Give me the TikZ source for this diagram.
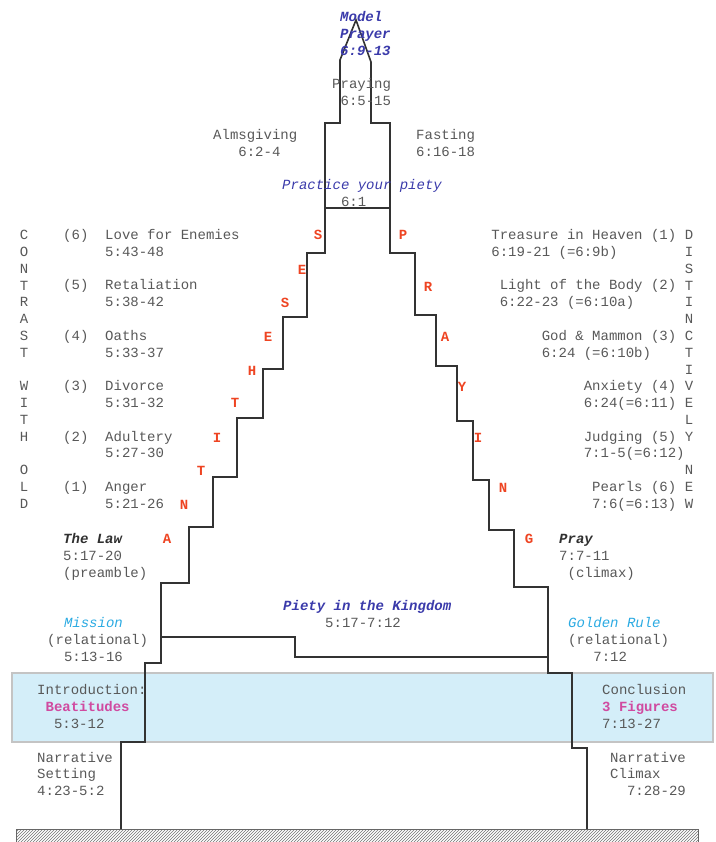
\documentclass[tikz,border=0pt]{standalone}
\usepackage{fontspec}
\setmainfont{Liberation Mono}
\usetikzlibrary{patterns}

\definecolor{txtgray}{HTML}{585858}
\definecolor{headgray}{HTML}{303030}
\definecolor{stairred}{HTML}{EE4422}
\definecolor{pietyblue}{HTML}{3A3AAA}
\definecolor{skyblue}{HTML}{2AAAE2}
\definecolor{beatpink}{HTML}{D04AA0}
\definecolor{bandblue}{HTML}{D4EEF9}
\definecolor{bandedge}{HTML}{C4C4C4}

\begin{document}
\begin{tikzpicture}[x=1pt,y=-1pt,font=\fontsize{14}{16.8}\selectfont]
		\useasboundingbox (0,0) rectangle (715,842);

		% band and ground
		\draw[fill=bandblue,draw=bandedge,line width=1.5pt] (12,673) rectangle (713,742);
		\draw[pattern=north east lines,pattern color=black!55,draw=black!60] (16,829) rectangle (698,842);

		% the mountain
		\begin{scope}[line width=1.6pt,black!80]
			\draw (121,829) -- (121,742) -- (145,742) -- (145,663) -- (161,663) -- (161,583)
				-- (189,583) -- (189,527) -- (213,527) -- (213,477) -- (237,477) -- (237,418)
				-- (263,418) -- (263,369) -- (283,369) -- (283,317) -- (307,317) -- (307,253)
				-- (325,253) -- (325,123) -- (340,123) -- (340,60) -- (356,20) -- (371,62)
				-- (371,123) -- (390,123) -- (390,253) -- (415,253) -- (415,315) -- (436,315)
				-- (436,366) -- (457,366) -- (457,421) -- (473,421) -- (473,480) -- (489,480)
				-- (489,530) -- (514,530) -- (514,587) -- (548,587) -- (548,673) -- (572,673)
				-- (572,748) -- (587,748) -- (587,829);
			\draw (325,208) -- (390,208);
			\draw (161,637) -- (295,637) -- (295,657) -- (548,657);
		\end{scope}

		\begin{scope}[every node/.style={anchor=center,inner sep=0pt,align=center,text=txtgray}]
			\node (contrast) at (24,369.4) {C\\O\\N\\T\\R\\A\\S\\T\\ \\W\\I\\T\\H\\ \\O\\L\\D};
			\node (distinct) at (689,369.4) {D\\I\\S\\T\\I\\N\\C\\T\\I\\V\\E\\L\\Y\\ \\N\\E\\W};
		\end{scope}

		\begin{scope}[every node/.style={anchor=center,inner sep=0pt,font=\fontsize{14}{16.8}\selectfont\bfseries,text=stairred}]
			\node (antiA) at (167,539) {A};
			\node (antiN) at (184,505) {N};
			\node (antiT) at (201,471) {T};
			\node (antiI) at (217,438) {I};
			\node (antiT2) at (235,403) {T};
			\node (antiH) at (252,371) {H};
			\node (antiE) at (268,337) {E};
			\node (antiS) at (285,303) {S};
			\node (antiE2) at (302,270) {E};
			\node (antiS2) at (318,235) {S};

			\node (prayP) at (403,235) {P};
			\node (prayR) at (428,287) {R};
			\node (prayA) at (445,337) {A};
			\node (prayY) at (462,387) {Y};
			\node (prayI) at (478,438) {I};
			\node (prayN) at (503,488) {N};
			\node (prayG) at (529,539) {G};
		\end{scope}

		% nodes sit on the baseline of their last line
		\begin{scope}[every node/.style={anchor=base west,inner sep=0pt,align=left,text=txtgray}]
			\node (model) at (340,55.1) {\color{pietyblue}\bfseries\itshape Model\\\color{pietyblue}\bfseries\itshape Prayer\\\color{pietyblue}\bfseries\itshape 6:9-13};
			\node (praying) at (332,105.3) {Praying\\\hphantom{0}6:5-15};
			\node (alms) at (213,156.3) {Almsgiving\\\hphantom{000}6:2-4};
			\node (fasting) at (416,156.3) {Fasting\\6:16-18};
			\node (practice) at (282,206.3) {\color{pietyblue}\itshape Practice your piety\\\hphantom{0000000}6:1};

			% antitheses
			\node (enemies) at (63,256.3) {(6)\hphantom{00}Love for Enemies\\\hphantom{00000}5:43-48};
			\node (retal) at (63,306.7) {(5)\hphantom{00}Retaliation\\\hphantom{00000}5:38-42};
			\node (oaths) at (63,357.1) {(4)\hphantom{00}Oaths\\\hphantom{00000}5:33-37};
			\node (divorce) at (63,407.5) {(3)\hphantom{00}Divorce\\\hphantom{00000}5:31-32};
			\node (adultery) at (63,457.9) {(2)\hphantom{00}Adultery\\\hphantom{00000}5:27-30};
			\node (anger) at (63,508.3) {(1)\hphantom{00}Anger\\\hphantom{00000}5:21-26};

			% piety
			\node (treasure) at (491.2,256.3) {Treasure in Heaven (1)\\6:19-21 (=6:9b)};
			\node (light) at (499.6,306.7) {Light of the Body (2)\\6:22-23 (=6:10a)};
			\node (mammon) at (541.6,357.1) {God \& Mammon (3)\\6:24 (=6:10b)};
			\node (anxiety) at (583.6,407.5) {Anxiety (4)\\6:24(=6:11)};
			\node (judging) at (583.6,457.9) {Judging (5)\\7:1-5(=6:12)};
			\node (pearls) at (592,508.3) {Pearls (6)\\7:6(=6:13)};

			\node (law) at (63,577.1) {\color{headgray}\bfseries\itshape The Law\\5:17-20\\(preamble)};
			\node (pray) at (559,577.1) {\color{headgray}\bfseries\itshape Pray\\7:7-11\\\hphantom{0}(climax)};
			\node (mission) at (47,661.1) {\hphantom{00}{\color{skyblue}\itshape Mission}\\(relational)\\\hphantom{00}5:13-16};
			\node (golden) at (568,661.1) {{\color{skyblue}\itshape Golden Rule}\\(relational)\\\hphantom{000}7:12};
			\node (kingdom) at (283,627.3) {\color{pietyblue}\bfseries\itshape Piety in the Kingdom\\\hphantom{00000}5:17-7:12};

			\node (intro) at (37,728.1) {Introduction:\\\hphantom{0}{\color{beatpink}\bfseries Beatitudes}\\\hphantom{00}5:3-12};
			\node (concl) at (602,728.1) {Conclusion\\{\color{beatpink}\bfseries 3 Figures}\\7:13-27};
			\node (setting) at (37,795.6) {Narrative\\Setting\\4:23-5:2};
			\node (climax) at (610,795.6) {Narrative\\Climax\\\hphantom{00}7:28-29};
		\end{scope}
\end{tikzpicture}
\end{document}
